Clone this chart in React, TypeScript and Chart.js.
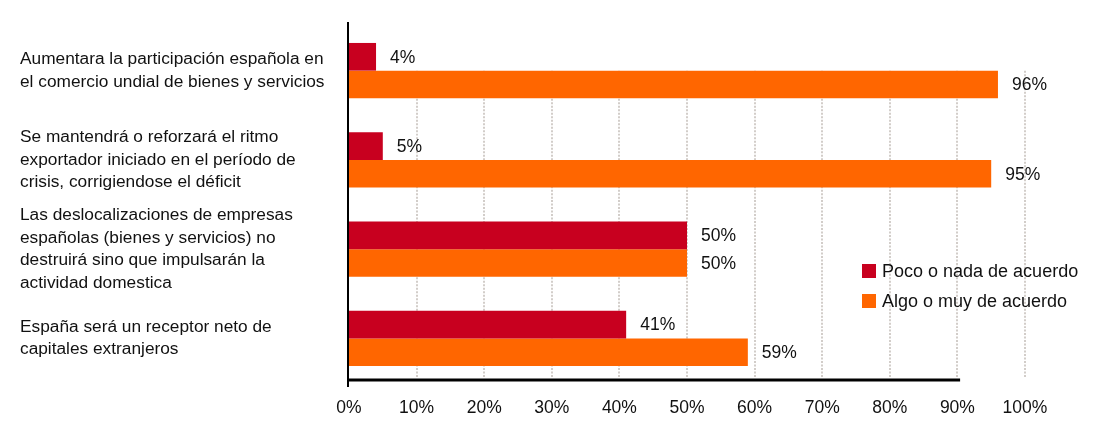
import React, { useEffect, useRef } from "react";
import { Chart, registerables } from "chart.js";

Chart.register(...registerables);

const categories: string[][] = [
  ["Aumentara la participación española en", "el comercio undial de bienes y servicios"],
  ["Se mantendrá o reforzará el ritmo", "exportador iniciado en el período de", "crisis, corrigiendose el déficit"],
  ["Las deslocalizaciones de empresas", "españolas (bienes y servicios) no", "destruirá sino que impulsarán la", "actividad domestica"],
  ["España será un receptor neto de", "capitales extranjeros"],
];
const seriesNames = ["Poco o nada de acuerdo", "Algo o muy de acuerdo"];
const pocoValues = [4, 5, 50, 41];
const algoValues = [96, 95, 50, 59];
const xTicks = [0, 10, 20, 30, 40, 50, 60, 70, 80, 90, 100];

const RED = "#C8001F";
const ORANGE = "#FF6600";
const FONT = "'Liberation Sans', Arial, sans-serif";
const TEXT = "#111111";

const decorPlugin = {
  id: "decor",
  beforeDatasetsDraw(chart: any) {
    const { ctx, chartArea, scales } = chart;
    const x = scales.x;
    const y = scales.y;
    const top = y.getPixelForValue(0);
    ctx.save();
    ctx.strokeStyle = "#d2cdc9";
    ctx.lineWidth = 2;
    ctx.setLineDash([2, 1.5]);
    xTicks.forEach((t) => {
      if (t === 0) return;
      const px = Math.round(x.getPixelForValue(t));
      ctx.beginPath();
      ctx.moveTo(px, top);
      ctx.lineTo(px, chartArea.bottom - 5);
      ctx.stroke();
    });
    ctx.restore();
  },
  afterDatasetsDraw(chart: any) {
    const { ctx, chartArea, scales } = chart;
    const x = scales.x;
    ctx.save();
    ctx.strokeStyle = "#000";
    ctx.lineWidth = 2;
    ctx.beginPath();
    ctx.moveTo(chartArea.left - 1, chartArea.top - 4);
    ctx.lineTo(chartArea.left - 1, chartArea.bottom + 4);
    ctx.stroke();
    ctx.lineWidth = 3;
    ctx.beginPath();
    ctx.moveTo(chartArea.left - 2, chartArea.bottom - 3);
    ctx.lineTo(x.getPixelForValue(90.4), chartArea.bottom - 3);
    ctx.stroke();

    ctx.fillStyle = TEXT;
    ctx.font = `17.5px ${FONT}`;
    ctx.textBaseline = "middle";
    ctx.textAlign = "left";
    chart.data.datasets.forEach((ds: any, di: number) => {
      const meta = chart.getDatasetMeta(di);
      meta.data.forEach((bar: any, i: number) => {
        ctx.fillText(`${ds.data[i]}%`, bar.x + 14, bar.y + 1);
      });
    });

    const lx = chartArea.right - 163;
    const ly = [chartArea.bottom - 112, chartArea.bottom - 82];
    const colors = [RED, ORANGE];
    ctx.font = `18px ${FONT}`;
    seriesNames.forEach((name, i) => {
      ctx.fillStyle = colors[i];
      ctx.fillRect(lx, ly[i] - 7, 14, 14);
      ctx.fillStyle = TEXT;
      ctx.fillText(name, lx + 20, ly[i] + 1);
    });
    ctx.restore();
  },
};

export default function App() {
  const ref = useRef<HTMLCanvasElement | null>(null);
  useEffect(() => {
    if (!ref.current) return;
    const chart = new Chart(ref.current, {
      type: "bar",
      data: {
        labels: categories,
        datasets: [
          { label: seriesNames[0], data: pocoValues, backgroundColor: RED, categoryPercentage: 0.62, barPercentage: 1 },
          { label: seriesNames[1], data: algoValues, backgroundColor: ORANGE, categoryPercentage: 0.62, barPercentage: 1 },
        ],
      },
      options: {
        indexAxis: "y",
        animation: false,
        responsive: false,
        devicePixelRatio: 1,
        layout: { padding: { left: 12, right: 65, top: 18, bottom: 0 } },
        plugins: { legend: { display: false }, tooltip: { enabled: false } },
        scales: {
          x: {
            min: 0,
            max: 100,
            afterBuildTicks: (scale: any) => {
              scale.ticks = xTicks.map((v) => ({ value: v }));
            },
            afterFit: (scale: any) => {
              scale.height = 36;
            },
            grid: { display: false, drawTicks: false },
            border: { display: false },
            ticks: {
              padding: 15,
              color: TEXT,
              font: { family: FONT, size: 17.5 },
              callback: (v: any) => `${v}%`,
              maxRotation: 0,
              autoSkip: false,
            },
          },
          y: {
            afterFit: (scale: any) => {
              scale.width = 329;
              scale.paddingTop = 0;
              scale.paddingBottom = 0;
            },
            grid: { display: false, drawTicks: false },
            border: { display: false },
            ticks: {
              crossAlign: "far",
              color: TEXT,
              font: { family: FONT, size: 17.3, lineHeight: 1.3 },
              autoSkip: false,
            },
          },
        },
      },
      plugins: [decorPlugin],
    });
    return () => chart.destroy();
  }, []);
  return (
    <div style={{ width: 1082, height: 411, background: "#fff" }}>
      <canvas ref={ref} width={1082} height={411} style={{ display: "block" }} />
    </div>
  );
}
